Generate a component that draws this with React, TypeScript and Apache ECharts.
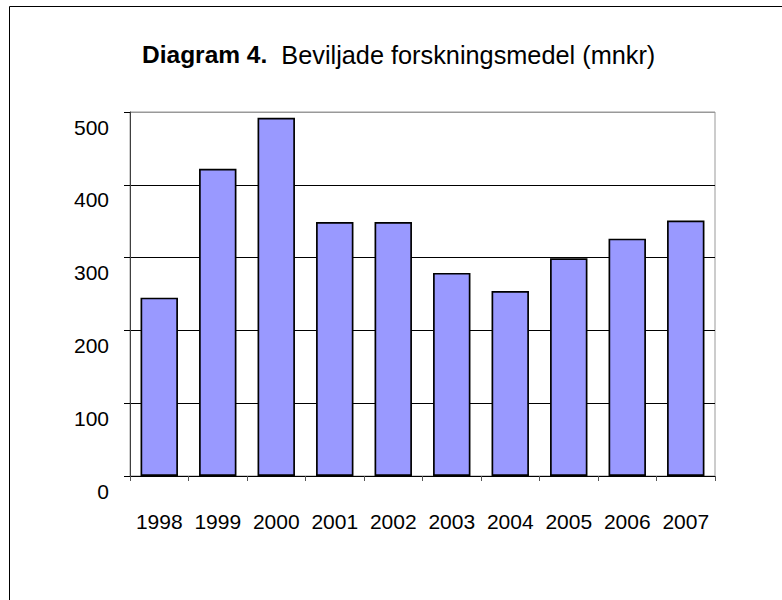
import React, { useEffect, useRef } from "react";
import * as echarts from "echarts";

const categories = ["1998", "1999", "2000", "2001", "2002", "2003", "2004", "2005", "2006", "2007"];
const values = [245, 422, 492, 349, 349, 279, 254, 299, 326, 351];
const titleBold = "Diagram 4.";
const titleRest = "Beviljade forskningsmedel (mnkr)";

const FONT = "'Liberation Sans', Arial, sans-serif";

export default function App() {
  const ref = useRef<HTMLDivElement>(null);
  useEffect(() => {
    if (!ref.current) return;
    const chart = echarts.init(ref.current, null, { renderer: "svg" });
    chart.setOption({
      animation: false,
      backgroundColor: "#fff",
      title: {
        text: `{b|${titleBold}}{r|  ${titleRest}}`,
        left: 142,
        top: 42,
        padding: 0,
        textStyle: {
          rich: {
            b: { fontFamily: FONT, fontSize: 24.5, fontWeight: "bold", color: "#000", lineHeight: 25 },
            r: { fontFamily: FONT, fontSize: 25.3, fontWeight: "normal", color: "#000", lineHeight: 25 },
          },
        },
      },
      graphic: [
        {
          type: "rect",
          shape: { x: 9.5, y: 6.5, width: 900, height: 700 },
          style: { fill: "none", stroke: "#000", lineWidth: 1 },
          silent: true,
          z: 100,
        },
      ],
      grid: {
        left: 130,
        top: 112,
        right: 67,
        bottom: 124,
        show: true,
        borderColor: "#999",
        borderWidth: 1,
        backgroundColor: "transparent",
      },
      xAxis: {
        type: "category",
        data: categories,
        boundaryGap: true,
        axisLine: { show: true, lineStyle: { color: "#000", width: 1 } },
        axisTick: { show: true, alignWithLabel: false, interval: 0, length: 5, lineStyle: { color: "#555" } },
        axisLabel: { fontFamily: FONT, fontSize: 21, color: "#000", margin: 35, interval: 0 },
        splitLine: { show: false },
      },
      yAxis: {
        type: "value",
        min: 0,
        max: 500,
        interval: 100,
        axisLine: { show: true, lineStyle: { color: "#404040", width: 1 } },
        axisTick: { show: true, length: 6, lineStyle: { color: "#000" } },
        axisLabel: {
          fontFamily: FONT,
          fontSize: 21,
          color: "#000",
          margin: 21,
          verticalAlign: "top",
          lineHeight: 30,
        },
        splitLine: {
          show: true,
          lineStyle: { color: ["#000", "#000", "#000", "#000", "#000", "#999"], width: 1 },
        },
      },
      series: [
        {
          type: "bar",
          data: values,
          barCategoryGap: "36%",
          itemStyle: { color: "#9999FF", borderColor: "#000", borderWidth: 1.7 },
        },
      ],
    });
    return () => chart.dispose();
  }, []);
  return (
    <div
      ref={ref}
      style={{ position: "absolute", left: 0, top: 0, width: 782, height: 600 }}
    />
  );
}
